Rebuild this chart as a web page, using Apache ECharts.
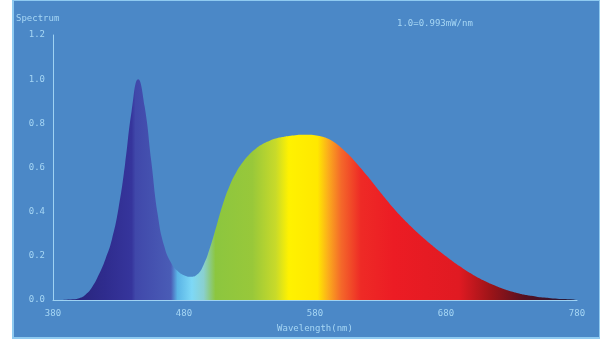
<!DOCTYPE html>
<html>
<head>
<meta charset="utf-8">
<style>
  html, body { margin: 0; padding: 0; background: #ffffff; }
  #chart { width: 600px; height: 341px; }
</style>
<script src="https://cdn.jsdelivr.net/npm/echarts@6/dist/echarts.min.js"></script>
</head>
<body>
<div id="chart"></div>
<script>
// Wavelength samples (nm) and relative spectral power
const wavelengths = [
  380, 385, 390, 395, 400, 405, 410, 415, 420, 425,
  430, 435, 440, 445, 450, 455, 460, 465, 470, 475,
  480, 485, 490, 495, 500, 505, 510, 515, 520, 525,
  530, 535, 540, 545, 550, 555, 560, 565, 570, 575,
  580, 585, 590, 595, 600, 605, 610, 615, 620, 625,
  630, 635, 640, 645, 650, 655, 660, 665, 670, 675,
  680, 685, 690, 695, 700, 705, 710, 715, 720, 725,
  730, 735, 740, 745, 750, 755, 760, 765, 770, 775, 780
];
const intensity = [
  0.000, 0.000, 0.001, 0.003, 0.008, 0.025, 0.060, 0.115, 0.185, 0.275,
  0.415, 0.615, 0.855, 1.000, 0.875, 0.630, 0.385, 0.242, 0.170, 0.132,
  0.112, 0.105, 0.115, 0.160, 0.240, 0.340, 0.440, 0.520, 0.580, 0.625,
  0.660, 0.686, 0.706, 0.720, 0.731, 0.738, 0.743, 0.746, 0.748, 0.748,
  0.746, 0.740, 0.730, 0.713, 0.690, 0.662, 0.631, 0.597, 0.561, 0.524,
  0.487, 0.451, 0.416, 0.383, 0.352, 0.323, 0.296, 0.270, 0.245, 0.221,
  0.198, 0.176, 0.155, 0.135, 0.117, 0.100, 0.085, 0.071, 0.059, 0.048,
  0.039, 0.031, 0.024, 0.019, 0.014, 0.011, 0.008, 0.006, 0.004, 0.003, 0.002
];
const xTicks = [380, 480, 580, 680, 780];
const yTicks = [0.0, 0.2, 0.4, 0.6, 0.8, 1.0, 1.2];

// Spectral colour stops by wavelength
const spectrumStops = [
  [380, '#24206e'], [420, '#2f2c8e'], [440, '#36359c'], [443, '#4048aa'],
  [470, '#4a5cb6'], [475, '#5ab4e6'], [486, '#7ed8f6'], [495, '#8ad0d0'],
  [504, '#8cc63f'], [532, '#98c83a'], [550, '#c8da2a'], [560, '#fff200'],
  [582, '#ffe800'], [590, '#fbad1c'], [600, '#f4682a'], [615, '#ee2a26'],
  [640, '#ec1c24'], [690, '#e01a22'], [715, '#9a1418'], [740, '#561020'],
  [780, '#1c1a3c']
];

const chart = echarts.init(document.getElementById('chart'), null, { renderer: 'canvas' });
const lo = wavelengths[0], hi = wavelengths[wavelengths.length - 1];
const gradient = new echarts.graphic.LinearGradient(0, 0, 1, 0,
  spectrumStops.map(s => ({ offset: (s[0] - lo) / (hi - lo), color: s[1] })));

const textColor = '#a6d6f4';
const font = 'DejaVu Sans Mono';

chart.setOption({
  animation: false,
  backgroundColor: '#ffffff',
  graphic: [
    { type: 'rect', z: -10, shape: { x: 13, y: 0, width: 587, height: 338 },
      style: { fill: '#4b88c7', stroke: '#8fcaf0', lineWidth: 2 } },
    { type: 'text', left: 16, top: 14,
      style: { text: 'Spectrum', fill: textColor, font: '9px ' + font } },
    { type: 'text', left: 397, top: 19,
      style: { text: '1.0=0.993mW/nm', fill: textColor, font: '9px ' + font } }
  ],
  grid: { left: 53, right: 23, top: 35, bottom: 41 },
  xAxis: {
    type: 'value', min: 380, max: 780, interval: 100,
    name: 'Wavelength(nm)', nameLocation: 'middle', nameGap: 24,
    nameTextStyle: { color: textColor, fontFamily: font, fontSize: 9 },
    axisLine: { show: true, lineStyle: { color: '#9fd2f2', width: 1 } },
    axisTick: { show: false },
    splitLine: { show: false },
    axisLabel: { color: textColor, fontFamily: font, fontSize: 9, margin: 9,
      customValues: xTicks, formatter: v => String(v) }
  },
  yAxis: {
    type: 'value', min: 0, max: 1.2, interval: 0.2,
    axisLine: { show: true, lineStyle: { color: '#9fd2f2', width: 1 } },
    axisTick: { show: false },
    splitLine: { show: false },
    axisLabel: { color: textColor, fontFamily: font, fontSize: 9, margin: 8,
      customValues: yTicks, formatter: v => v.toFixed(1) }
  },
  series: [{
    type: 'line',
    data: wavelengths.map((w, i) => [w, intensity[i]]),
    smooth: 0.5,
    symbol: 'none',
    lineStyle: { width: 0 },
    areaStyle: { color: gradient, opacity: 1 }
  }]
});
</script>
</body>
</html>
